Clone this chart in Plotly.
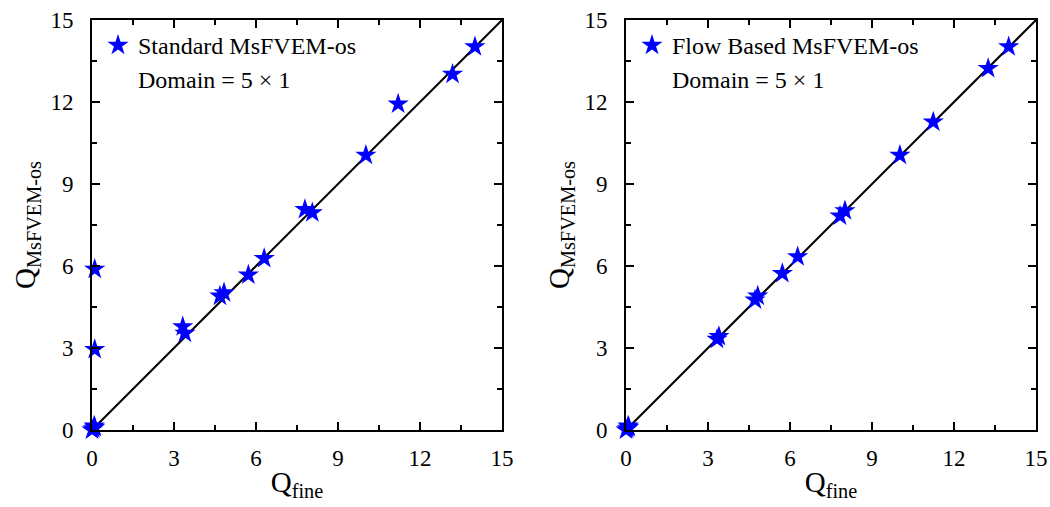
import plotly.graph_objects as go

# Left panel: Standard MsFVEM-os
std_fine = [0.0, 0.05, 0.1, 0.08, 0.1, 0.1, 3.32, 3.40, 4.68, 4.83, 5.72, 6.30, 7.79, 8.06, 10.02, 11.20, 13.19, 14.01]
std_ms   = [0.0, 0.05, 0.1, 0.15, 2.95, 5.88, 3.78, 3.54, 4.90, 5.02, 5.67, 6.28, 8.07, 7.95, 10.05, 11.93, 13.02, 14.02]
# Right panel: Flow Based MsFVEM-os
fb_fine = [0.0, 0.05, 0.1, 0.08, 3.33, 3.40, 4.72, 4.82, 5.72, 6.28, 7.83, 8.01, 10.02, 11.24, 13.25, 14.00]
fb_ms   = [0.0, 0.05, 0.1, 0.15, 3.32, 3.42, 4.76, 4.90, 5.73, 6.34, 7.83, 8.02, 10.05, 11.27, 13.23, 14.02]
diag = [0, 15]
ticks = [0, 3, 6, 9, 12, 15]
names = ["Standard MsFVEM-os", "Flow Based MsFVEM-os"]
domain_label = "Domain = 5 × 1"

FONT = "Liberation Serif"
fig = go.Figure()

W, H = 1050, 507
xd = [[92 / W, 502 / W], [626 / W, 1036 / W]]
yd = [(H - 430) / H, (H - 20) / H]

for i, (xs, ys) in enumerate([(std_fine, std_ms), (fb_fine, fb_ms)]):
    ax = "" if i == 0 else "2"
    fig.add_trace(go.Scatter(x=diag, y=diag, mode="lines", line=dict(color="black", width=2),
                             showlegend=False, xaxis="x" + ax, yaxis="y" + ax, hoverinfo="skip"))
    fig.add_trace(go.Scatter(x=xs, y=ys, mode="markers", name=names[i],
                             marker=dict(symbol="star", size=16, color="#0000ff", line=dict(width=0)),
                             xaxis="x" + ax, yaxis="y" + ax, legend="legend" if i == 0 else "legend2",
                             cliponaxis=False))

axis_common = dict(range=[0, 15], tickvals=ticks, ticks="inside", ticklen=8, tickwidth=1.5,
                   tickcolor="black", showline=True, linecolor="black", linewidth=2, mirror="ticks",
                   showgrid=False, zeroline=False, automargin=False,
                   tickfont=dict(family=FONT, size=23, color="black"),
                   minor=dict(tickvals=[1.5, 4.5, 7.5, 10.5, 13.5], ticks="inside", ticklen=5,
                              tickwidth=1.5, tickcolor="black"))

layout = dict(width=W, height=H, margin=dict(l=0, r=0, t=0, b=0), plot_bgcolor="white",
              paper_bgcolor="white", font=dict(family=FONT, color="black"))
for i in range(2):
    ax = "" if i == 0 else "2"
    layout["xaxis" + ax] = dict(axis_common, domain=xd[i], anchor="y" + ax, ticklabelstandoff=6,
                                title=dict(text="Q<sub>fine</sub>", font=dict(family=FONT, size=29), standoff=2))
    layout["yaxis" + ax] = dict(axis_common, domain=yd, anchor="x" + ax, ticklabelstandoff=12,
                                title=dict(text="Q<sub>MsFVEM-os</sub>", font=dict(family=FONT, size=29), standoff=6))
    key = "legend" if i == 0 else "legend2"
    layout[key] = dict(x=xd[i][0] + 6 / W, y=yd[1] - 3 / H, xanchor="left", yanchor="top",
                       bgcolor="rgba(0,0,0,0)", font=dict(family=FONT, size=24, color="black"),
                       itemwidth=30)
fig.update_layout(**layout)

for i in range(2):
    fig.add_annotation(x=xd[i][0] + 44 / W, y=(H - 80) / H, xref="paper", yref="paper",
                       text=domain_label, showarrow=False, xanchor="left", yanchor="middle",
                       font=dict(family=FONT, size=24, color="black"))

fig.write_html("out.html")
